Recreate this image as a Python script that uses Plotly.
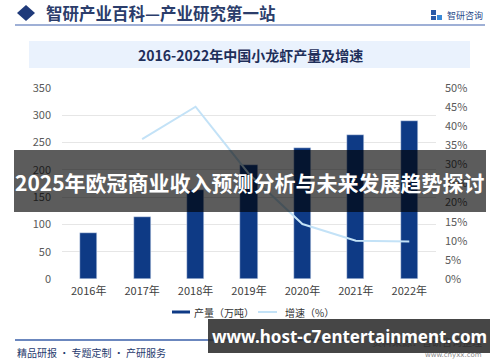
import plotly.graph_objects as go

years = ["2016年", "2017年", "2018年", "2019年", "2020年", "2021年", "2022年"]
output = [85.2, 112.97, 163.87, 208.96, 239.37, 263.36, 289.07]
growth_years = ["2017年", "2018年", "2019年", "2020年", "2021年", "2022年"]
growth = [36.6, 45.1, 27.5, 14.4, 10.0, 9.8]
left_ticks = [0, 50, 100, 150, 200, 250, 300, 350]
right_ticks = [0, 5, 10, 15, 20, 25, 30, 35, 40, 45, 50]
right_labels = [f"{v}%" for v in right_ticks]

W, H = 500, 362
L, R, T, B = 62, 436, 88, 279

BAR = "#0e3a85"
LINE = "#c3e2f7"
FONT = "Noto Sans CJK SC"

fig = go.Figure()
fig.add_trace(go.Bar(x=years, y=output, marker_color=BAR, width=0.32, name="产量（万吨）"))
fig.add_trace(go.Scatter(x=growth_years, y=growth, yaxis="y2", mode="lines",
                         line=dict(color=LINE, width=2), name="增速（%）"))

def px(x):
    return (x - L) / (R - L)

def py(y):
    return (B - y) / (B - T)

shapes = []
ann = []

def text(t, x, y, size, color, xanchor="left", family=FONT):
    ann.append(dict(text=t, x=px(x), y=py(y), xref="paper", yref="paper",
                    xanchor=xanchor, yanchor="middle", showarrow=False,
                    font=dict(family=family, size=size, color=color)))

def rect(x0, y0, x1, y1, color, layer="below"):
    shapes.append(dict(type="rect", xref="paper", yref="paper", x0=px(x0), x1=px(x1),
                       y0=py(y0), y1=py(y1), fillcolor=color, line=dict(width=0), layer=layer))

def hline(x0, x1, y, color, width):
    shapes.append(dict(type="line", xref="paper", yref="paper", x0=px(x0), x1=px(x1),
                       y0=py(y), y1=py(y), line=dict(color=color, width=width)))

# header
shapes.append(dict(type="path", xref="paper", yref="paper",
                   path=f"M {px(17)} {py(13)} L {px(26)} {py(5)} L {px(35)} {py(13)} L {px(26)} {py(21)} Z",
                   fillcolor="#1f3a7a", line=dict(width=0)))
hline(15, 485, 25, "#9fb0d6", 2)
text("<b>智研产业百科—产业研究第一站</b>", 44, 13, 16.5, "#2b3d6b")
# logo
rect(431, 10, 436, 15, "#2a5aa8")
rect(437, 15, 442, 20, "#3a8ad8")
rect(431, 16, 436, 20, "#2a5aa8")
text("智研咨询", 445, 15, 9, "#2a4a8a")

# title box
rect(29, 41, 470, 68, "#eaf2fd")
text("<b>2016-2022年中国小龙虾产量及增速</b>", 250, 55, 14, "#1f2f5a", xanchor="center")

# legend
hline(172, 190, 312, BAR, 3)
text("产量（万吨）", 192, 312, 10, "#333333")
hline(258, 277, 312, LINE, 2)
text("增速（%）", 283, 312, 10, "#333333")

# footer
hline(15, 360, 340, "#3a5fa8", 1.5)
text("精品研报 · 专题定制 · 产研服务", 15, 352, 10, "#1f3a6e")
text("资料来源：智研咨询整理", 484, 341, 10, "#333333", xanchor="right")
text("www.chyxx.com", 484, 355, 7, "#888888", xanchor="right", family="DejaVu Sans")

# overlay banner
rect(14, 150, 486, 212, "rgba(0,0,0,0.64)", layer="above")
text("<b>2025年欧冠商业收入预测分析与未来发展趋势探讨</b>", 250, 182, 21, "#ffffff", xanchor="center")
# bottom overlay
rect(208, 319, 490, 353, "rgba(40,40,40,0.86)", layer="above")
text("<b>www.host-c7entertainment.com</b>", 349, 336, 17, "#ffffff", xanchor="center", family="Noto Sans")

fig.update_layout(
    width=W, height=H,
    margin=dict(l=L, r=W - R, t=T, b=H - B, pad=0),
    paper_bgcolor="white", plot_bgcolor="white",
    showlegend=False, bargap=0,
    font=dict(family=FONT, color="#595959", size=11),
    xaxis=dict(type="category", showgrid=False, zeroline=False, showline=False,
               ticks="", tickfont=dict(size=11, color="#404040"), ticklabelstandoff=4),
    yaxis=dict(range=[0, 350], tickvals=left_ticks, showgrid=True, gridcolor="#e6e6e6",
               gridwidth=1, zeroline=False, showline=False, ticks="",
               tickfont=dict(size=11, color="#595959"), ticklabelstandoff=10),
    yaxis2=dict(range=[0, 50], tickvals=right_ticks, ticktext=right_labels, overlaying="y", side="right",
                showgrid=False, zeroline=False, showline=False, ticks="",
                tickfont=dict(size=11, color="#595959"), ticklabelstandoff=8),
    shapes=shapes, annotations=ann,
)

fig.write_html("out.html", config={"displayModeBar": False},
               post_script="document.body.style.margin='0px';document.body.style.overflow='hidden';")
